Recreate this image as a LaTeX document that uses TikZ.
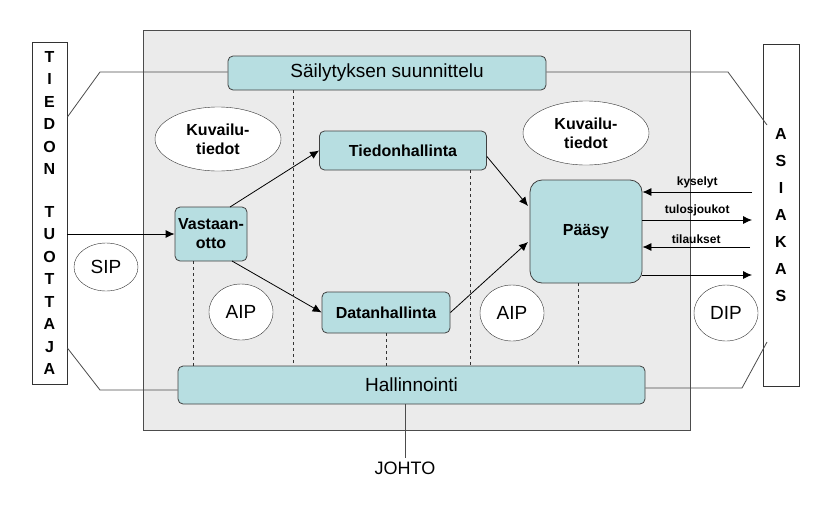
\documentclass[tikz,border=0pt]{standalone}
\usepackage{fontspec}
\setmainfont{Liberation Sans}
\usetikzlibrary{positioning,shapes.geometric,arrows.meta}
\definecolor{boxteal}{HTML}{B7DEE1}
\definecolor{areagray}{HTML}{EBEBEB}
\tikzset{
  func/.style={draw=black!75,fill=boxteal,rounded corners=5pt,thick,align=center,inner sep=0pt},
  pkg/.style={draw=black!80,fill=white,ellipse,align=center,inner sep=0pt},
  side/.style={draw=black!80,fill=white,thick,inner sep=0pt,align=center,font=\fontsize{16}{22.5}\selectfont\bfseries},
  flow/.style={-{Latex[length=9pt,width=8pt]},thick},
  link/.style={black!70,thick},
  vdash/.style={dashed,black!80},
}
\begin{document}
\begin{tikzpicture}[x=1pt,y=-1pt]
  \useasboundingbox (0,0) rectangle (829,509);
  \fill[areagray,draw=black!70] (143,30) rectangle (690,430);
  % actors
  \node[side,minimum width=35,minimum height=342] (tuottaja) at (49.5,213) {T\\I\\E\\D\\O\\N\\[20pt]T\\U\\O\\T\\T\\A\\J\\A};
  \node[side,font=\fontsize{16}{27}\selectfont\bfseries,minimum width=36,minimum height=342] (asiakas) at (781,215) {A\\S\\I\\A\\K\\A\\S};
  % functions
  \node[func,minimum width=318,minimum height=34,font=\fontsize{19}{22}\selectfont] (sailytys) at (387,73) {Säilytyksen suunnittelu};
  \node[func,minimum width=467,minimum height=38,font=\fontsize{19}{22}\selectfont] (hallinnointi) at (411.5,385) {Hallinnointi};
  \node[func,minimum width=167,minimum height=39,font=\fontsize{16}{19}\selectfont\bfseries] (tiedon) at (403,150.5) {Tiedonhallinta};
  \node[func,minimum width=72,minimum height=54,font=\fontsize{16}{19}\selectfont\bfseries] (vastaan) at (211,234) {Vastaan-\\otto};
  \node[func,minimum width=128,minimum height=41,font=\fontsize{16}{19}\selectfont\bfseries] (datan) at (386,312.5) {Datanhallinta};
  \node[func,minimum width=112,minimum height=103,rounded corners=12pt,font=\fontsize{16}{19}\selectfont\bfseries] (paasy) at (586,231.5) {Pääsy};
  % packages
  \node[pkg,minimum width=126,minimum height=64,font=\fontsize{16}{19}\selectfont\bfseries] (kuv1) at (218,139) {Kuvailu-\\tiedot};
  \node[pkg,minimum width=126,minimum height=64,font=\fontsize{16}{19}\selectfont\bfseries] (kuv2) at (586,133) {Kuvailu-\\tiedot};
  \node[pkg,minimum width=64,minimum height=48,font=\fontsize{19}{22}\selectfont] (sip) at (106,267) {SIP};
  \node[pkg,minimum width=64,minimum height=56,font=\fontsize{19}{22}\selectfont] (aip1) at (241,312) {AIP};
  \node[pkg,minimum width=64,minimum height=56,font=\fontsize{19}{22}\selectfont] (aip2) at (512,313) {AIP};
  \node[pkg,minimum width=64,minimum height=56,font=\fontsize{19}{22}\selectfont] (dip) at (726,313) {DIP};
  \node[font=\fontsize{18}{21}\selectfont] (johto) at (405,468) {JOHTO};
  % actor links
  \coordinate (t1) at (100,72); \coordinate (t2) at (100,390);
  \coordinate (a1) at (728,72); \coordinate (a2) at (742,388);
  \draw[link] (tuottaja.east |- 0,117) -- (t1) -- (sailytys.west |- t1);
  \draw[link] (tuottaja.east |- 0,348) -- (t2) -- (hallinnointi.west |- t2);
  \draw[link] (sailytys.east |- a1) -- (a1) -- (767,125);
  \draw[link] (hallinnointi.east |- a2) -- (a2) -- (767,342);
  \draw[link] (hallinnointi.south -| johto) -- (johto.north);
  % flows
  \draw[flow] (tuottaja.east |- vastaan) -- (vastaan.west);
  \draw[flow] (230,207) -- (tiedon.west);
  \draw[flow] (232,261) -- (datan.west);
  \draw[flow] (tiedon.east) ++(0,6) -- (528,206);
  \draw[flow] (datan.east) -- (528,242);
  \draw[flow] (752,192) -- node[above,font=\fontsize{12}{14}\selectfont\bfseries] {kyselyt} (paasy.east |- 0,192);
  \draw[flow] (paasy.east |- 0,220) -- node[above,font=\fontsize{12}{14}\selectfont\bfseries] {tulosjoukot} (752,220);
  \draw[flow] (750,247) -- node[above,font=\fontsize{12}{14}\selectfont\bfseries] {tilaukset} (paasy.east |- 0,247);
  \draw[flow] (paasy.east |- 0,275) -- (752,275);
  % dashed links
  \draw[vdash] (sailytys.south -| 293,0) -- (hallinnointi.north -| 293,0);
  \draw[vdash] (vastaan.south -| 193,0) -- (hallinnointi.north -| 193,0);
  \draw[vdash] (tiedon.south -| 470,0) -- (hallinnointi.north -| 470,0);
  \draw[vdash] (datan.south) -- (hallinnointi.north -| datan);
  \draw[vdash] (paasy.south -| 578,0) -- (hallinnointi.north -| 578,0);
\end{tikzpicture}
\end{document}
